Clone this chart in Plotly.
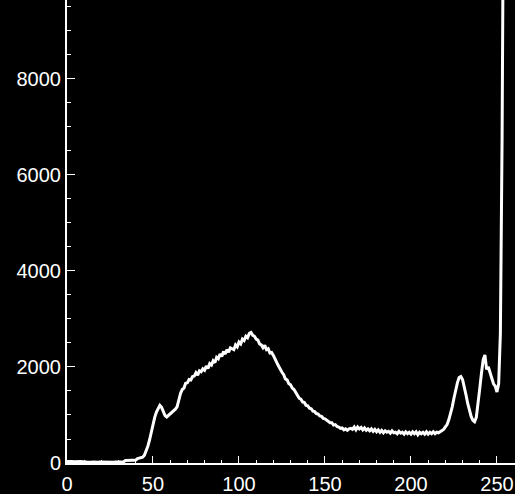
import plotly.graph_objects as go

gray_levels = list(range(256))
counts = [
    30, 25, 35, 30, 28, 32, 30, 26, 30, 28,
    18, 20, 15, 22, 18, 20, 16, 20, 18, 22,
    20, 18, 22, 17, 20, 19, 21, 18, 20, 22,
    20, 24, 22, 26,
    50, 55, 48, 52, 58, 55, 60,
    90, 95, 105, 120, 160,
    250, 350, 480, 650, 800, 950, 1060, 1150, 1200, 1160,
    1050, 990, 960, 990, 1030, 1060, 1090, 1120, 1170, 1330,
    1450, 1530, 1560, 1660, 1670, 1740, 1730, 1800, 1810, 1880,
    1830, 1920, 1900, 1960, 1930, 2020, 1970, 2070, 2040, 2130,
    2090, 2200, 2170, 2270, 2220, 2320, 2270, 2360, 2310, 2400,
    2370, 2360, 2460, 2420, 2520, 2480, 2580, 2550, 2640, 2610,
    2700, 2720, 2660, 2640, 2580, 2560, 2480, 2460, 2400, 2450,
    2360, 2380, 2290, 2300, 2240, 2180, 2090, 2020, 1940, 1890,
    1840, 1750, 1730, 1650, 1630, 1560, 1530, 1460, 1420, 1350,
    1330, 1270, 1260, 1200, 1190, 1140, 1130, 1080, 1070, 1030,
    1020, 980, 970, 930, 920, 890, 880, 840, 840, 790,
    800, 760, 750, 720, 730, 690, 710, 680, 710, 720,
    700, 750, 690, 750, 710, 740, 690, 730, 680, 710,
    670, 710, 660, 700, 650, 690, 640, 680, 630, 670,
    640, 660, 620, 670, 630, 640, 610, 660, 620, 640,
    600, 650, 610, 640, 600, 650, 610, 650, 590, 640,
    610, 640, 600, 650, 600, 640, 610, 650, 610, 640, 630,
    650, 670, 700, 750, 800, 900, 1030, 1170, 1350, 1520, 1670,
    1780, 1800, 1740, 1600, 1420, 1240, 1100, 970, 890, 860,
    950, 1200, 1550, 1870, 2150, 2250, 1950, 2000, 1870, 1780,
    1650, 1600, 1480, 1650, 2700, 6800, 20000, 20000,
]
assert len(counts) == len(gray_levels)

x_ticks = [0, 50, 100, 150, 200, 250]
y_ticks = [0, 2000, 4000, 6000, 8000]

fig = go.Figure(go.Scatter(
    x=gray_levels, y=counts, mode="lines",
    line=dict(color="white", width=3), hoverinfo="skip",
))

font = dict(family="Liberation Sans", size=20, color="white")
fig.update_layout(
    width=515, height=494, autosize=False,
    margin=dict(l=67, r=0, t=0, b=31, autoexpand=False),
    paper_bgcolor="black", plot_bgcolor="black",
    showlegend=False, font=font,
    xaxis=dict(
        range=[0, 260.5], tickvals=x_ticks, ticktext=[str(v) for v in x_ticks],
        ticks="inside", ticklen=7, tickwidth=1, tickcolor="white",
        showline=True, linecolor="white", linewidth=2, mirror=False,
        showgrid=False, zeroline=False, tickfont=font, automargin=False,
        ticklabelstandoff=2,
        minor=dict(dtick=10, ticks="inside", ticklen=3, tickcolor="white", showgrid=False),
    ),
    yaxis=dict(
        range=[0, 9644], tickvals=y_ticks, ticktext=[str(v) for v in y_ticks],
        ticks="inside", ticklen=8, tickwidth=1, tickcolor="white",
        showline=True, linecolor="white", linewidth=2, mirror=False,
        showgrid=False, zeroline=False, tickfont=font, automargin=False,
        minor=dict(dtick=500, ticks="inside", ticklen=4, tickcolor="white", showgrid=False),
    ),
)

fig.write_html(
    "out.html",
    config={"displayModeBar": False},
    post_script="document.body.style.margin='0';document.body.style.overflow='hidden';document.body.style.background='black';",
)
